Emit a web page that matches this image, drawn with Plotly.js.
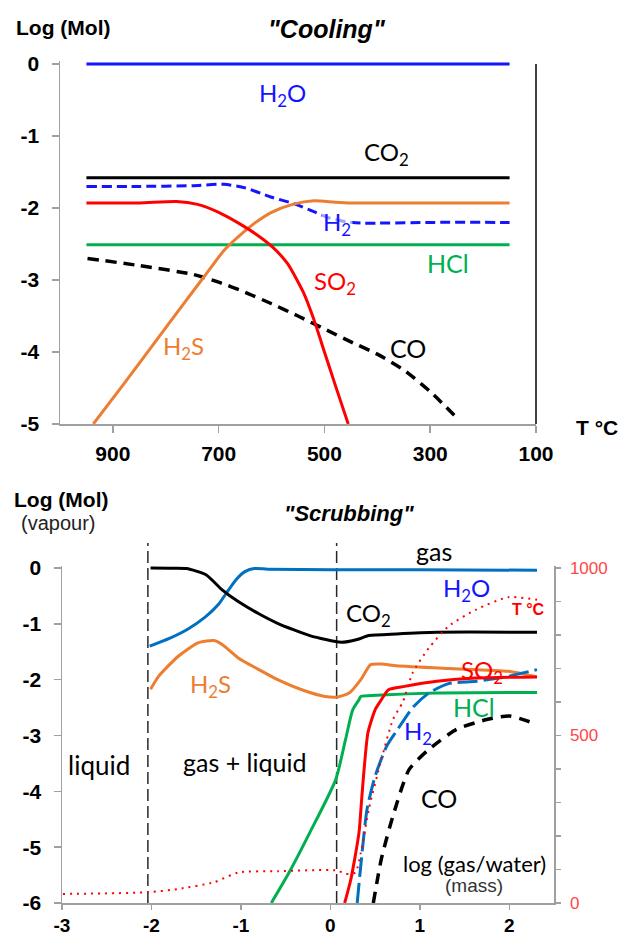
<!DOCTYPE html>
<html>
<head>
<meta charset="utf-8">
<script src="https://cdn.plot.ly/plotly-3.0.1.min.js"></script>
<style>
html,body{margin:0;padding:0;background:#fff;}
#chart{width:622px;height:938px;}
</style>
</head>
<body>
<div id="chart"></div>
<script>
// ---------- Top chart: "Cooling" (x = T °C, y = log mol) ----------
const coolH2O_T = [950, 150];
const coolH2O_v = [0, 0];
const coolCO2_T = [950, 150];
const coolCO2_v = [-1.58, -1.58];
const coolHCl_T = [950, 150];
const coolHCl_v = [-2.51, -2.51];
const coolH2_T = [950, 850, 750, 690, 650, 600, 558, 520, 490, 460, 430, 400, 300, 150];
const coolH2_v = [-1.70, -1.70, -1.69, -1.67, -1.72, -1.85, -1.94, -2.05, -2.14, -2.19, -2.21, -2.21, -2.2, -2.2];
const coolSO2_T = [950, 850, 780, 740, 700, 660, 630, 600, 570, 540, 520, 500, 480, 455];
const coolSO2_v = [-1.93, -1.93, -1.91, -1.95, -2.06, -2.22, -2.36, -2.53, -2.77, -3.17, -3.55, -4.0, -4.45, -5.0];
const coolH2S_T = [937, 880, 820, 760, 720, 690, 660, 630, 600, 560, 520, 480, 450, 150];
const coolH2S_v = [-5.0, -4.45, -3.86, -3.27, -2.88, -2.59, -2.38, -2.2, -2.06, -1.95, -1.9, -1.92, -1.93, -1.93];
const coolCO_T = [948, 850, 750, 700, 650, 600, 550, 500, 450, 400, 350, 300, 245];
const coolCO_v = [-2.70, -2.8, -2.92, -3.03, -3.17, -3.33, -3.5, -3.68, -3.86, -4.03, -4.25, -4.55, -4.95];

const coolXTicks = [900, 700, 500, 300, 100];
const coolYTicks = [0, -1, -2, -3, -4, -5];
const coolYLabels = ["0", "-1", "-2", "-3", "-4", "-5"];

// ---------- Bottom chart: "Scrubbing" (x = log gas/water, y = log mol) ----------
const scrH2O_x = [-2.02, -1.8, -1.6, -1.4, -1.25, -1.15, -1.05, -0.95, -0.85, -0.7, 0, 1, 2.31];
const scrH2O_v = [-1.40, -1.26, -1.1, -0.88, -0.65, -0.42, -0.2, -0.06, -0.01, -0.02, -0.03, -0.03, -0.04];
const scrCO2_x = [-2.01, -1.8, -1.61, -1.39, -1.21, -1.03, -0.81, -0.59, -0.23, 0.12, 0.30, 0.43, 0.74, 1.19, 2.31];
const scrCO2_v = [0, -0.005, -0.01, -0.12, -0.39, -0.6, -0.81, -0.99, -1.21, -1.33, -1.28, -1.21, -1.18, -1.15, -1.15];
const scrH2S_x = [-2.01, -1.92, -1.7, -1.48, -1.3, -1.21, -1.03, -0.81, -0.59, -0.32, -0.06, 0.08, 0.21, 0.34, 0.45, 0.57, 0.74, 1.32, 1.99, 2.31];
const scrH2S_v = [-2.17, -1.94, -1.58, -1.34, -1.30, -1.37, -1.61, -1.81, -2.0, -2.18, -2.3, -2.31, -2.24, -2.0, -1.73, -1.72, -1.75, -1.80, -1.85, -1.95];
const scrSO2_x = [0.16, 0.23, 0.32, 0.35, 0.38, 0.42, 0.5, 0.57, 0.65, 0.83, 1.19, 1.63, 2.31];
const scrSO2_v = [-6.0, -5.57, -4.74, -4.14, -3.55, -2.95, -2.54, -2.36, -2.18, -2.12, -2.03, -1.97, -1.95];
const scrHCl_x = [-0.66, -0.46, -0.23, 0.06, 0.17, 0.25, 0.32, 0.34, 0.52, 1.19, 2.31];
const scrHCl_v = [-6.0, -5.45, -4.74, -3.79, -3.07, -2.54, -2.36, -2.30, -2.28, -2.24, -2.23];
const scrH2_x = [0.30, 0.34, 0.41, 0.50, 0.63, 0.74, 0.92, 1.10, 1.32, 1.63, 1.99, 2.31];
const scrH2_v = [-6.0, -5.33, -4.32, -3.73, -3.19, -2.92, -2.5, -2.24, -2.07, -2.03, -1.94, -1.82];
const scrCO_x = [0.48, 0.57, 0.70, 0.88, 1.10, 1.41, 1.76, 2.0, 2.31];
const scrCO_v = [-6.0, -5.21, -4.44, -3.61, -3.25, -2.89, -2.71, -2.65, -2.80];
const scrTemp_x = [-2.99, -2.04, -1.70, -1.30, -1.03, -0.59, 0.08, 0.17, 0.28, 0.34, 0.43, 0.57, 0.70, 0.81, 0.92, 1.10, 1.32, 1.63, 1.99, 2.31];
const scrTemp_c = [27, 32, 42, 62, 91, 95, 97, 87, 91, 150, 280, 428, 548, 600, 687, 761, 826, 876, 913, 905];
const phaseBoundaries = [-2.04, 0.07];

const scrXTicks = [-3, -2, -1, 0, 1, 2];
const scrXLabels = ["-3", "-2", "-1", "0", "1", "2"];
const scrYTicks = [0, -1, -2, -3, -4, -5, -6];
const scrYLabels = ["0", "-1", "-2", "-3", "-4", "-5", "-6"];
const tempTicks = [0, 500, 1000];
const tempLabels = ["0", "500", "1000"];
const tempMinorStep = 100;

// ---------- styling ----------
const W = 622, H = 938;
const px = v => v / W;
const py = v => 1 - v / H;
const SANS = "Liberation Sans, Arial, sans-serif";
const LBL = "Lato, Liberation Sans, sans-serif";
const BLUE = "rgb(20,20,255)";
const BLUE2 = "rgb(0,112,192)";
const RED = "rgb(255,0,0)";
const ORANGE = "rgb(237,125,49)";
const GREEN = "rgb(0,176,80)";
const AXC = "rgb(160,160,160)";

function line(x, y, color, width, dash, xa, ya) {
  return {x: x, y: y, type: "scatter", mode: "lines", xaxis: xa, yaxis: ya,
    line: {color: color, width: width, dash: dash || "solid", shape: "spline", smoothing: 0.6},
    hoverinfo: "skip", showlegend: false};
}

const traces = [
  line(coolH2O_T, coolH2O_v, BLUE, 3, null, "x", "y"),
  line(coolCO2_T, coolCO2_v, "black", 3, null, "x", "y"),
  line(coolHCl_T, coolHCl_v, GREEN, 3, null, "x", "y"),
  line(coolCO_T, coolCO_v, "black", 3.5, "11px,7px", "x", "y"),
  line(coolH2_T, coolH2_v, BLUE, 3, "10px,5px", "x", "y"),
  line(coolH2S_T, coolH2S_v, ORANGE, 3, null, "x", "y"),
  line(coolSO2_T, coolSO2_v, RED, 3, null, "x", "y"),

  line(scrTemp_x, scrTemp_c, RED, 2, "2px,5px", "x2", "y3"),
  line(scrH2O_x, scrH2O_v, BLUE2, 3, null, "x2", "y2"),
  line(scrCO2_x, scrCO2_v, "black", 3, null, "x2", "y2"),
  line(scrH2S_x, scrH2S_v, ORANGE, 3, null, "x2", "y2"),
  line(scrCO_x, scrCO_v, "black", 3.5, "11px,8px", "x2", "y2"),
  line(scrHCl_x, scrHCl_v, GREEN, 3, null, "x2", "y2"),
  line(scrH2_x, scrH2_v, BLUE2, 3, "20px,6px", "x2", "y2"),
  line(scrSO2_x, scrSO2_v, RED, 3, null, "x2", "y2")
];

const tickFont = {family: SANS, size: 21, color: "black", weight: "bold"};
const bottomTickFont = {family: SANS, size: 19, color: "black", weight: "bold"};

const topDomY = [py(424), py(424 - 5.04 * 72)];
const botDomY = [py(903), py(903 - 6.04 * 55.83)];

function ann(text, x, y, color, size, opts) {
  return Object.assign({text: text, x: x, y: y, showarrow: false,
    font: {family: LBL, size: size, color: color}, xanchor: "center", yanchor: "middle"}, opts || {});
}
const onTop = {xref: "x", yref: "y"};
const onBot = {xref: "x2", yref: "y2"};
const onPaper = {xref: "paper", yref: "paper"};
function sansOnPaper(size, color) {
  return Object.assign({font: {family: SANS, size: size, color: color}}, onPaper);
}

const annotations = [
  // top chart
  ann("<b>Log (Mol)</b>", px(63), py(27), "black", 21, sansOnPaper(21, "black")),
  ann("<b><i>\"Cooling\"</i></b>", px(327), py(29), "black", 25, sansOnPaper(25, "black")),
  ann("<b>T °C</b>", px(597), py(427), "black", 21, sansOnPaper(21, "black")),
  ann("H<sub>2</sub>O", 580, -0.42, BLUE, 24, onTop),
  ann("CO<sub>2</sub>", 382, -1.24, "black", 24, onTop),
  ann("H<sub>2</sub>", 476, -2.21, BLUE, 24, Object.assign({bgcolor: "rgba(255,255,255,0.6)"}, onTop)),
  ann("HCl", 267, -2.76, GREEN, 25, onTop),
  ann("SO<sub>2</sub>", 480, -3.04, RED, 24, onTop),
  ann("H<sub>2</sub>S", 767, -3.94, ORANGE, 24, onTop),
  ann("CO", 342, -3.94, "black", 25, onTop),
  // bottom chart
  ann("<b>Log (Mol)</b>", px(61), py(499), "black", 21, sansOnPaper(21, "black")),
  ann("(vapour)", px(58), py(523), "black", 20, sansOnPaper(20, "#222")),
  ann("<b><i>\"Scrubbing\"</i></b>", px(349), py(513), "black", 22, sansOnPaper(22, "black")),
  ann("gas", px(434), py(551), "black", 25, onPaper),
  ann("H<sub>2</sub>O", 1.52, -0.39, BLUE, 24, onBot),
  ann("T °C", 2.21, -0.75, RED, 15, Object.assign({font: {family: SANS, size: 16, color: RED, weight: "bold"}}, onBot)),
  ann("CO<sub>2</sub>", 0.43, -0.84, "black", 24, onBot),
  ann("H<sub>2</sub>S", -1.34, -2.10, ORANGE, 24, onBot),
  ann("SO<sub>2</sub>", 1.70, -1.86, RED, 24, onBot),
  ann("HCl", 1.61, -2.49, GREEN, 25, onBot),
  ann("H<sub>2</sub>", 0.98, -2.94, BLUE, 24, onBot),
  ann("liquid", -2.59, -3.53, "black", 26, onBot),
  ann("gas + liquid", -0.96, -3.48, "black", 25, onBot),
  ann("CO", 1.21, -4.12, "black", 25, onBot),
  ann("log (gas/water)", 1.61, -5.29, "black", 22, onBot),
  ann("(mass)", 1.61, -5.69, "#333", 20, Object.assign({font: {family: SANS, size: 19, color: "#333"}}, onBot))
];

const shapes = [
  // right border of top chart
  {type: "line", xref: "x domain", yref: "y", x0: 1, x1: 1, y0: -5, y1: 0,
   line: {color: "black", width: 1.5}, layer: "above"}
];
phaseBoundaries.forEach(b => {
  shapes.push({type: "line", xref: "x2", yref: "paper", x0: b, x1: b, y0: py(903), y1: py(543),
    line: {color: "rgb(40,40,40)", width: 1.5, dash: "12px,5px"}, layer: "below"});
});

const layout = {
  width: W, height: H,
  margin: {l: 0, r: 0, t: 0, b: 0},
  paper_bgcolor: "white", plot_bgcolor: "white",
  showlegend: false,
  xaxis: {domain: [px(60), px(536)], anchor: "y", range: [1000, 100],
    tickvals: coolXTicks, ticktext: coolXTicks.map(String), tickfont: tickFont,
    ticks: "outside", ticklen: 7, tickcolor: AXC, tickwidth: 1.5,
    showline: true, linecolor: AXC, linewidth: 1.5, showgrid: false, zeroline: false,
    ticklabelstandoff: 3, fixedrange: true},
  yaxis: {domain: topDomY, anchor: "x", range: [-5, 0.04],
    tickvals: coolYTicks, ticktext: coolYLabels, tickfont: tickFont,
    ticks: "outside", ticklen: 7, tickcolor: AXC, tickwidth: 1.5,
    showline: true, linecolor: AXC, linewidth: 1.5, showgrid: false, zeroline: false,
    ticklabelstandoff: 8, fixedrange: true},
  xaxis2: {domain: [px(62), px(554)], anchor: "y2", range: [-3, 2.5],
    tickvals: scrXTicks, ticktext: scrXLabels, tickfont: bottomTickFont,
    ticks: "outside", ticklen: 5, tickcolor: AXC, tickwidth: 1.5,
    showline: true, linecolor: AXC, linewidth: 1.5, showgrid: false, zeroline: false,
    ticklabelstandoff: 0, fixedrange: true},
  yaxis2: {domain: botDomY, anchor: "x2", range: [-6, 0.04],
    tickvals: scrYTicks, ticktext: scrYLabels, tickfont: tickFont,
    ticks: "outside", ticklen: 7, tickcolor: AXC, tickwidth: 1.5,
    showline: true, linecolor: AXC, linewidth: 1.5, showgrid: false, zeroline: false,
    ticklabelstandoff: 8, fixedrange: true},
  yaxis3: {overlaying: "y2", anchor: "x2", side: "right", range: [0, 1000 * 6.04 / 6],
    tickvals: tempTicks, ticktext: tempLabels,
    tickfont: {family: SANS, size: 17, color: "rgb(255,70,70)"},
    ticks: "outside", ticklen: 5, tickcolor: AXC, tickwidth: 1.5,
    minor: {dtick: tempMinorStep, tick0: 0, ticks: "outside", ticklen: 5, tickcolor: AXC, tickwidth: 1.5, showgrid: false},
    showline: true, linecolor: AXC, linewidth: 1.5, showgrid: false, zeroline: false,
    ticklabelstandoff: 6, fixedrange: true},
  annotations: annotations,
  shapes: shapes
};

Plotly.newPlot("chart", traces, layout, {staticPlot: true, displayModeBar: false});
</script>
</body>
</html>
